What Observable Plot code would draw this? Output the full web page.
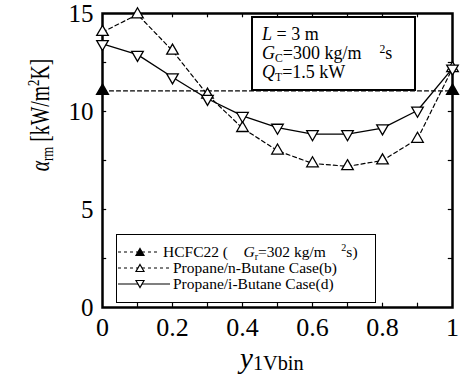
<!DOCTYPE html>
<html>
<head>
<meta charset="utf-8">
<script src="https://cdn.jsdelivr.net/npm/d3@7"></script>
<script src="https://cdn.jsdelivr.net/npm/@observablehq/plot@0.6"></script>
<style>
  html, body { margin: 0; padding: 0; background: #fff; }
  #wrap { position: relative; width: 464px; height: 378px; font-family: "Liberation Serif", "Times New Roman", serif; color: #000; overflow: hidden; }
  #wrap > svg { position: absolute; left: 0; top: 0; }
  .box { position: absolute; background: #fff; border: 2px solid #000; box-sizing: border-box; font-family: "Liberation Serif", serif; }
  .note { left: 251px; top: 16px; width: 165px; height: 75px; font-size: 18px; line-height: 19px; padding: 7px 0 0 9px; }
  .legend { left: 116px; top: 234px; width: 260px; height: 69px; font-size: 15.5px; padding-top: 9px; border-width: 1.5px; }
  .legend .row { display: flex; align-items: center; height: 16px; white-space: nowrap; }
  .legend .row svg { margin-left: 1px; margin-right: 3px; flex: none; }
  sub { font-size: 65%; vertical-align: -0.25em; line-height: 0; }
  sup { font-size: 65%; vertical-align: 0.55em; line-height: 0; }
  .ylab { position: absolute; left: 40px; top: 115px; line-height: 30px; transform: translate(-50%, -50%) rotate(-90deg) scaleX(0.73); font-size: 27px; white-space: nowrap; }
  .xlab { position: absolute; left: 240px; top: 343px; line-height: 30px; font-size: 29px; white-space: nowrap; }
  .xlab sub { font-size: 70%; vertical-align: -0.12em; }
</style>
</head>
<body>
<div id="wrap"></div>
<script>
// ---- data ----
const xs = [0, 0.1, 0.2, 0.3, 0.4, 0.5, 0.6, 0.7, 0.8, 0.9, 1.0];
const nButane = [14.05, 14.95, 13.1, 10.85, 9.15, 8.0, 7.35, 7.2, 7.5, 8.6, 12.2];
const iButane = [13.45, 12.9, 11.75, 10.65, 9.78, 9.18, 8.85, 8.85, 9.15, 10.05, 12.2];
const hcfcX = [0, 1];
const hcfcY = [11.05, 11.05];
const xTicks = [0, 0.2, 0.4, 0.6, 0.8, 1];
const xMinor = [0.1, 0.2, 0.3, 0.4, 0.5, 0.6, 0.7, 0.8, 0.9];
const yTicks = [0, 5, 10, 15];
const yMinor = [2.5, 5, 7.5, 10, 12.5];

const nb = xs.map((x, i) => ({x, y: nButane[i]}));
const ib = xs.map((x, i) => ({x, y: iButane[i]}));
const hc = hcfcX.map((x, i) => ({x, y: hcfcY[i]}));

const tickLenY = 0.22;   // in y units
const tickLenX = 0.012;  // in x units

const chart = Plot.plot({
  width: 464,
  height: 378,
  marginLeft: 102,
  marginRight: 12,
  marginTop: 13,
  marginBottom: 71,
  style: {fontFamily: "Liberation Serif, serif", fontSize: "25px", background: "transparent", color: "#000"},
  x: {domain: [0, 1]},
  y: {domain: [0, 15]},
  marks: [
    Plot.axisX(xTicks, {anchor: "bottom", tickSize: 0, tickPadding: 10, label: null, tickFormat: d => String(d), fontSize: 26}),
    Plot.axisY(yTicks, {anchor: "left", tickSize: 0, tickPadding: 9, label: null, tickFormat: d => String(d), fontSize: 25}),
    Plot.ruleX(xMinor, {x: d => d, y1: 0, y2: tickLenY, stroke: "#000", strokeWidth: 1.2}),
    Plot.ruleX(xMinor, {x: d => d, y1: 15, y2: 15 - tickLenY, stroke: "#000", strokeWidth: 1.2}),
    Plot.ruleY(yMinor, {y: d => d, x1: 0, x2: tickLenX, stroke: "#000", strokeWidth: 1.2}),
    Plot.ruleY(yMinor, {y: d => d, x1: 1, x2: 1 - tickLenX, stroke: "#000", strokeWidth: 1.2}),
    Plot.line(hc, {x: "x", y: "y", stroke: "#000", strokeWidth: 1.1, strokeDasharray: "4,3"}),
    Plot.line(nb, {x: "x", y: "y", stroke: "#000", strokeWidth: 1.2, strokeDasharray: "4,3"}),
    Plot.line(ib, {x: "x", y: "y", stroke: "#000", strokeWidth: 1.3}),
    Plot.frame({stroke: "#000", strokeWidth: 2.5}),
    Plot.dot(hc, {x: "x", y: "y", symbol: "triangle", r: 4.3, fill: "#000", stroke: "#000"}),
    Plot.dot(nb, {x: "x", y: "y", symbol: "triangle", r: 4.3, fill: "#fff", stroke: "#000", strokeWidth: 1.3}),
    Plot.dot(ib, {x: "x", y: "y", symbol: "triangle", rotate: 180, r: 4.3, fill: "#fff", stroke: "#000", strokeWidth: 1.3})
  ]
});

const wrap = document.getElementById("wrap");
wrap.appendChild(chart);

function sample(w, dash, fill, rot) {
  const c = 22;
  return `<svg width="${w}" height="14" viewBox="0 0 ${w} 14">
    <line x1="0" y1="7" x2="${w}" y2="7" stroke="#000" stroke-width="1.2" ${dash ? 'stroke-dasharray="3,3"' : ''}/>
    <path d="${rot ? `M${c-4},3.5 L${c+4},3.5 L${c},10.5 Z` : `M${c},3.5 L${c+4},10.5 L${c-4},10.5 Z`}" fill="${fill}" stroke="#000" stroke-width="1.2"/>
  </svg>`;
}

const note = document.createElement("div");
note.className = "box note";
note.innerHTML = `<div><i>L</i> = 3 m</div>
<div><i>G</i><sub>C</sub>=300 kg/m&nbsp;&nbsp;&nbsp;&nbsp;<sup>2</sup>s</div>
<div><i>Q</i><sub>T</sub>=1.5 kW</div>`;
wrap.appendChild(note);

const legend = document.createElement("div");
legend.className = "box legend";
legend.innerHTML = `<div class="row">${sample(42, true, "#000", false)}<span>HCFC22 (&nbsp;&nbsp;&nbsp;&nbsp;<i>G</i><sub>r</sub>=302 kg/m&nbsp;&nbsp;&nbsp;&nbsp;<sup>2</sup>s)</span></div>
<div class="row">${sample(52, true, "#fff", false)}<span>Propane/n-Butane Case(b)</span></div>
<div class="row">${sample(52, false, "#fff", true)}<span>Propane/i-Butane Case(d)</span></div>`;
wrap.appendChild(legend);

const ylab = document.createElement("div");
ylab.className = "ylab";
ylab.innerHTML = `<i>α</i><sub>rm</sub> [kW/m<sup>2</sup>K]`;
wrap.appendChild(ylab);

const xlab = document.createElement("div");
xlab.className = "xlab";
xlab.innerHTML = `<i>y</i><sub>1Vbin</sub>`;
wrap.appendChild(xlab);
</script>
</body>
</html>
